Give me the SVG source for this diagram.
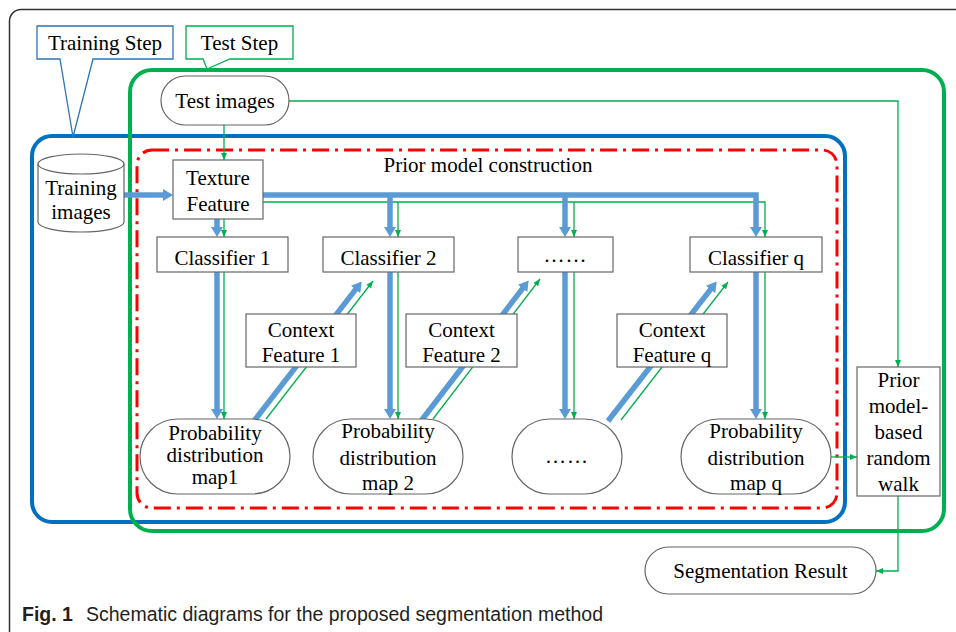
<svg xmlns="http://www.w3.org/2000/svg" width="956" height="632" viewBox="0 0 956 632">
<defs>
<style>
.t{font-family:"Liberation Serif","Times New Roman",serif;font-size:21px;fill:#000;text-anchor:middle}
.n{fill:#fff;stroke:#666;stroke-width:1.2}
.b{fill:none;stroke:#5B9BD5;stroke-width:5.5;marker-end:url(#ab)}
.bn{fill:none;stroke:#5B9BD5;stroke-width:5.5}
.g{fill:none;stroke:#00B050;stroke-width:1.3;marker-end:url(#ag)}
.gn{fill:none;stroke:#00B050;stroke-width:1.3}
</style>
<marker id="ab" markerUnits="userSpaceOnUse" markerWidth="10" markerHeight="12" viewBox="0 0 10 12" refX="2" refY="6" orient="auto">
<path d="M0,0 L10,6 L0,12 Z" fill="#5B9BD5"/>
</marker>
<marker id="ag" markerUnits="userSpaceOnUse" markerWidth="7" markerHeight="6" viewBox="0 0 7 6" refX="7" refY="3" orient="auto">
<path d="M0,0 L7,3 L0,6 Z" fill="#00B050"/>
</marker>
</defs>
<rect width="956" height="632" fill="#fff"/>
<path d="M965,9.5 H21 A11.5,11.5 0 0 0 9.5,21 V632" fill="none" stroke="#333" stroke-width="1.5"/>

<g id="frames">
<rect x="32" y="136" width="813" height="386" rx="20" fill="none" stroke="#0070C0" stroke-width="4"/>
<rect x="130" y="70" width="814" height="461" rx="22" fill="none" stroke="#00B050" stroke-width="4"/>
<rect x="137" y="150" width="700" height="358" rx="15" fill="none" stroke="#FF0000" stroke-width="3" stroke-dasharray="17 6 3 6"/>
</g>

<g id="callout-training">
<path d="M37,26 H173 V59 H93 L73,137 L60,59 H37 Z" fill="#fff" stroke="#2E75B6" stroke-width="1.3"/>
<text class="t" x="105" y="50">Training Step</text>
</g>
<g id="callout-test">
<path d="M186,26 H293 V59 H230 L207,69 L203,59 H186 Z" fill="#fff" stroke="#00B050" stroke-width="1.3"/>
<text class="t" x="239.5" y="50">Test Step</text>
</g>
<text class="t" x="488" y="172">Prior model construction</text>

<g id="connectors">
<path class="g" d="M224,125 V160"/>
<path class="g" d="M289,101 H898 V367"/>
<path class="g" d="M224,219 V237"/>
<path class="g" d="M263,202 H765 V237"/>
<path class="g" d="M398,202 V237"/>
<path class="g" d="M574,202 V237"/>
<path class="g" d="M224,272 V419"/>
<path class="g" d="M398,272 V419"/>
<path class="g" d="M574,272 V419"/>
<path class="g" d="M765,272 V419"/>
<path class="g" d="M266,419 L373,281"/>
<path class="g" d="M433,419 L540,279"/>
<path class="g" d="M621,420 L728,282"/>
<path class="g" d="M831,457 H857"/>
<path class="g" d="M898,496 V571 H876"/>

<path class="b" d="M124,195 H165"/>
<path class="b" d="M217,219 V229"/>
<path class="b" d="M263,195 H756 V229"/>
<path class="b" d="M390,195 V229"/>
<path class="b" d="M565,195 V229"/>
<path class="b" d="M217,272 V411"/>
<path class="b" d="M390,272 V411"/>
<path class="b" d="M565,272 V411"/>
<path class="b" d="M756,272 V411"/>
<path class="b" d="M254,421 L356.8,287.9"/>
<path class="b" d="M421,421 L523.8,286.9"/>
<path class="b" d="M608,421 L711.8,287.9"/>
</g>

<g id="training-images">
<path class="n" d="M38,164 A43,10 0 0 1 124,164 V222 A43,10 0 0 1 38,222 Z"/>
<path d="M38,164 A43,10 0 0 0 124,164" fill="none" stroke="#666" stroke-width="1.2"/>
<text class="t" x="81" y="195">Training</text>
<text class="t" x="81" y="219">images</text>
</g>
<g id="test-images">
<rect class="n" x="161" y="76" width="128" height="49" rx="24.5"/>
<text class="t" x="225" y="108">Test images</text>
</g>
<g id="texture-feature">
<rect class="n" x="173" y="160" width="90" height="59"/>
<text class="t" x="218" y="185">Texture</text>
<text class="t" x="218" y="211">Feature</text>
</g>
<g id="classifier-1">
<rect class="n" x="157" y="237" width="131" height="35"/>
<text class="t" x="222.5" y="265">Classifier 1</text>
</g>
<g id="classifier-2">
<rect class="n" x="323" y="237" width="131" height="35"/>
<text class="t" x="388.5" y="265">Classifier 2</text>
</g>
<g id="classifier-dots">
<rect class="n" x="518" y="237" width="95" height="35"/>
<text class="t" x="565.5" y="262" letter-spacing="1">……</text>
</g>
<g id="classifier-q">
<rect class="n" x="690" y="237" width="132" height="35"/>
<text class="t" x="756" y="265">Classifier q</text>
</g>
<g id="context-1">
<rect class="n" x="246" y="314" width="110" height="53"/>
<text class="t" x="301" y="337">Context</text>
<text class="t" x="301" y="362">Feature 1</text>
</g>
<g id="context-2">
<rect class="n" x="406" y="314" width="111" height="53"/>
<text class="t" x="461.5" y="337">Context</text>
<text class="t" x="461.5" y="362">Feature 2</text>
</g>
<g id="context-q">
<rect class="n" x="617" y="314" width="110" height="53"/>
<text class="t" x="672" y="337">Context</text>
<text class="t" x="672" y="362">Feature q</text>
</g>
<g id="map-1">
<rect class="n" x="140" y="419" width="150" height="75" rx="37.5"/>
<text class="t" x="215" y="440">Probability</text>
<text class="t" x="215" y="462">distribution</text>
<text class="t" x="215" y="484">map1</text>
</g>
<g id="map-2">
<rect class="n" x="313" y="419" width="150" height="75" rx="37.5"/>
<text class="t" x="388" y="438">Probability</text>
<text class="t" x="388" y="465">distribution</text>
<text class="t" x="388" y="490">map 2</text>
</g>
<g id="map-dots">
<rect class="n" x="512" y="419" width="110" height="75" rx="37.5"/>
<text class="t" x="567" y="463" letter-spacing="1">……</text>
</g>
<g id="map-q">
<rect class="n" x="681" y="419" width="150" height="75" rx="37.5"/>
<text class="t" x="756" y="438">Probability</text>
<text class="t" x="756" y="465">distribution</text>
<text class="t" x="756" y="490">map q</text>
</g>
<g id="random-walk">
<rect class="n" x="857" y="367" width="83" height="129"/>
<text class="t" x="898.5" y="387">Prior</text>
<text class="t" x="898.5" y="413">model-</text>
<text class="t" x="898.5" y="439">based</text>
<text class="t" x="898.5" y="465">random</text>
<text class="t" x="898.5" y="491">walk</text>
</g>
<g id="segmentation-result">
<rect class="n" x="645" y="547" width="231" height="47" rx="23.5"/>
<text class="t" x="760.5" y="578">Segmentation Result</text>
</g>

<text x="22" y="621" font-family="'Liberation Sans',Arial,sans-serif" font-size="19.5" fill="#231F20"><tspan font-weight="bold">Fig. 1</tspan><tspan x="86">Schematic diagrams for the proposed segmentation method</tspan></text>
</svg>
